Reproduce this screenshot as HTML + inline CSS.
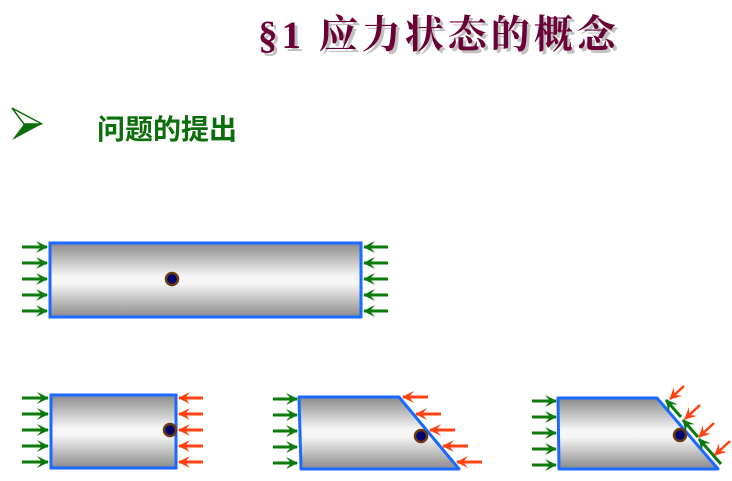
<!DOCTYPE html>
<html><head><meta charset="utf-8"><style>
html,body{margin:0;padding:0;background:#fff;width:732px;height:481px;overflow:hidden}
</style></head><body>
<svg width="732" height="481" viewBox="0 0 732 481" xmlns="http://www.w3.org/2000/svg">
<defs>
<linearGradient id="g" x1="0" y1="0" x2="0" y2="1">
<stop offset="0" stop-color="#8a8a8a"/><stop offset="0.45" stop-color="#f6f6f6"/><stop offset="0.55" stop-color="#f6f6f6"/><stop offset="1" stop-color="#8a8a8a"/>
</linearGradient>
<marker id="mg" viewBox="0 0 12 12" refX="11" refY="6" markerWidth="12" markerHeight="12" orient="auto" markerUnits="userSpaceOnUse">
<path d="M0,0 L12,6 L0,12 L5,6 Z" fill="#0a7a0a"/>
</marker>
<marker id="mr" viewBox="0 0 12 12" refX="11" refY="6" markerWidth="12" markerHeight="12" orient="auto" markerUnits="userSpaceOnUse">
<path d="M0,0 L12,6 L0,12 L5,6 Z" fill="#ff4010"/>
</marker>
</defs>
<text x="258" y="48" font-family="Liberation Serif, 'Noto Serif CJK SC', serif" font-size="39" font-weight="bold" fill="#999" opacity="0.6" transform="translate(3,3)" letter-spacing="4">§1 应力状态的概念</text>
<text x="258" y="48" font-family="Liberation Serif, 'Noto Serif CJK SC', serif" font-size="39" font-weight="bold" fill="#6b0036" letter-spacing="4">§1 应力状态的概念</text>
<polygon points="12,108 42,124 12,140 24,124" fill="#0a6e0a"/>
<polygon points="12,108 42,124 24,124" fill="#fff" stroke="#0a6e0a" stroke-width="1.5"/>
<text x="97" y="139" font-family="Liberation Sans, 'Noto Sans CJK SC', sans-serif" font-size="28" font-weight="bold" fill="#0a6e0a">问题的提出</text>

<g stroke-width="3" fill="none">
<rect x="50" y="243" width="311" height="74" fill="url(#g)" stroke="#1a6aff"/>
<g stroke="#0a7a0a" marker-end="url(#mg)">
<line x1="22" y1="247" x2="47" y2="247"/><line x1="22" y1="263" x2="47" y2="263"/><line x1="22" y1="279" x2="47" y2="279"/><line x1="22" y1="295" x2="47" y2="295"/><line x1="22" y1="311" x2="47" y2="311"/>
<line x1="388" y1="247" x2="364" y2="247"/><line x1="388" y1="263" x2="364" y2="263"/><line x1="388" y1="279" x2="364" y2="279"/><line x1="388" y1="295" x2="364" y2="295"/><line x1="388" y1="311" x2="364" y2="311"/>
</g>

<rect x="51" y="395" width="125" height="73" fill="url(#g)" stroke="#1a6aff"/>
<g stroke="#0a7a0a" marker-end="url(#mg)">
<line x1="22" y1="398" x2="48" y2="398"/><line x1="22" y1="414" x2="48" y2="414"/><line x1="22" y1="430" x2="48" y2="430"/><line x1="22" y1="446" x2="48" y2="446"/><line x1="22" y1="462" x2="48" y2="462"/>
</g>
<g stroke="#ff4010" marker-end="url(#mr)">
<line x1="203" y1="398" x2="179" y2="398"/><line x1="203" y1="414" x2="179" y2="414"/><line x1="203" y1="430" x2="179" y2="430"/><line x1="203" y1="446" x2="179" y2="446"/><line x1="203" y1="462" x2="179" y2="462"/>
</g>

<polygon points="299,397 399,397 459,469 301,469" fill="url(#g)" stroke="#1a6aff" stroke-linejoin="round"/>
<g stroke="#0a7a0a" marker-end="url(#mg)">
<line x1="273" y1="399" x2="297" y2="399"/><line x1="273" y1="415" x2="297" y2="415"/><line x1="273" y1="431" x2="297" y2="431"/><line x1="273" y1="447" x2="297" y2="447"/><line x1="273" y1="463" x2="297" y2="463"/>
</g>
<g stroke="#ff4010" marker-end="url(#mr)">
<line x1="428" y1="397" x2="403" y2="397"/><line x1="441" y1="414" x2="416" y2="414"/><line x1="455" y1="430" x2="430" y2="430"/><line x1="468" y1="446" x2="443" y2="446"/><line x1="482" y1="462" x2="457" y2="462"/>
</g>

<polygon points="558,398 657,398 718,469 559,469" fill="url(#g)" stroke="#1a6aff" stroke-linejoin="round"/>
<g stroke="#0a7a0a" marker-end="url(#mg)">
<line x1="532" y1="401" x2="556" y2="401"/><line x1="532" y1="417" x2="556" y2="417"/><line x1="532" y1="433" x2="556" y2="433"/><line x1="532" y1="449" x2="556" y2="449"/><line x1="532" y1="465" x2="556" y2="465"/>
<line x1="681" y1="417" x2="666" y2="400"/><line x1="698" y1="437" x2="683" y2="420"/><line x1="714" y1="456" x2="699" y2="439"/>
<line x1="721" y1="464" x2="713" y2="455" marker-end="none"/>
</g>
<g stroke="#ff4010" stroke-width="2.5" marker-end="url(#mr)">
<line x1="684" y1="386" x2="670" y2="399"/><line x1="700" y1="405" x2="685" y2="419"/><line x1="714" y1="423" x2="699" y2="437"/><line x1="730" y1="441" x2="715" y2="455"/>
</g>
</g>
<g fill="#000070" stroke="#6a3a10" stroke-width="2.5">
<circle cx="172" cy="279" r="6"/><circle cx="170" cy="430" r="6"/><circle cx="421" cy="436" r="6"/><circle cx="680" cy="435" r="6"/>
</g>
</svg>
</body></html>
